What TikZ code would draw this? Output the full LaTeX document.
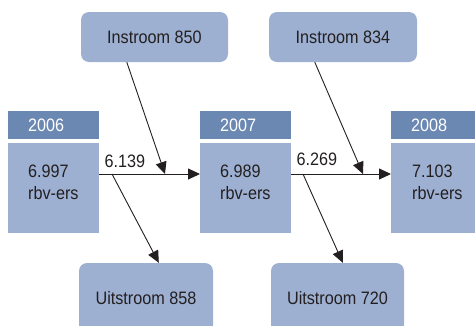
\documentclass[tikz,border=0pt]{standalone}
\usepackage{fontspec}
\setmainfont{Liberation Sans}[FakeStretch=0.9]
\usetikzlibrary{arrows.meta}
\definecolor{headblue}{HTML}{6B88B3}
\definecolor{bodyblue}{HTML}{9DB0D2}
\definecolor{inkgray}{HTML}{231F20}

\tikzset{
  yearbox/.style={rectangle, fill=headblue, anchor=north west, minimum width=91pt,
    minimum height=28pt, text width=51pt, inner xsep=20pt, inner ysep=0pt, text=white},
  bodybox/.style={rectangle, fill=bodyblue, anchor=north west, minimum width=91pt,
    minimum height=90pt, inner sep=0pt},
  valtext/.style={anchor=north west, inner sep=0pt, align=left, text=inkgray},
  flowbox/.style={rectangle, rounded corners=8pt, fill=bodyblue, minimum height=50pt,
    inner sep=0pt, text=inkgray},
  countlabel/.style={anchor=south west, inner sep=0pt, text=inkgray},
  flow/.style={->, line width=0.9pt, inkgray},
  >={Triangle[length=12pt,width=11pt]}
}

\begin{document}
\begin{tikzpicture}[x=1pt, y=-1pt, font=\fontsize{18}{22}\selectfont]
    % Page frame
    \clip (0,0) rectangle (475,325);
    \useasboundingbox (0,0) rectangle (475,325);

    % Year headers and stock boxes
    \node[yearbox] (y06) at (8,111) {2006};
    \node[yearbox] (y07) at (200,111) {2007};
    \node[yearbox] (y08) at (391,111) {2008};
    \node[bodybox] (b06) at (8,143) {};
    \node[bodybox] (b07) at (200,143) {};
    \node[bodybox] (b08) at (391,143) {};
    \node[valtext] (v06) at (28,165) {6.997\\rbv-ers};
    \node[valtext] (v07) at (220,165) {6.989\\rbv-ers};
    \node[valtext] (v08) at (412,165) {7.103\\rbv-ers};

    % Inflow and outflow boxes
    \node[flowbox, minimum width=147pt] (in850) at (154.5,37) {Instroom 850};
    \node[flowbox, minimum width=148pt] (in834) at (343,37) {Instroom 834};
    \node[flowbox, minimum width=134pt, minimum height=70pt] (out858) at (146,298) {Uitstroom 858};
    \node[flowbox, minimum width=133pt, minimum height=70pt] (out720) at (337.5,298) {Uitstroom 720};

    % Points on the flow lines
    \coordinate (j1) at (165,174);
    \coordinate (j2) at (363,174);
    \coordinate (o1) at (112,174);
    \coordinate (o2) at (303,174);

    % Stock flow
    \draw[flow] (b06.east |- j1) -- (b07.west |- j1);
    \draw[flow] (b07.east |- j2) -- (b08.west |- j2);
    \node[countlabel] (l1) at ([xshift=5pt,yshift=6pt]b06.east |- j1) {6.139};
    \node[countlabel] (l2) at ([xshift=5pt,yshift=8pt]b07.east |- j2) {6.269};

    % Inflow and outflow arrows
    \draw[flow] ([xshift=46pt]in850.south west) -- (j1);
    \draw[flow] ([xshift=46pt]in834.south west) -- (j2);
    \draw[flow] (o1) -- ([xshift=80pt]out858.north west);
    \draw[flow] (o2) -- ([xshift=72pt]out720.north west);
\end{tikzpicture}
\end{document}
